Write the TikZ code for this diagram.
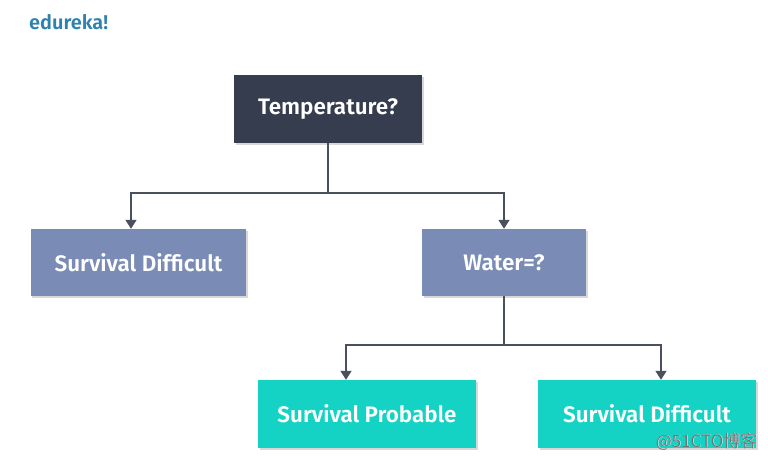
\documentclass[tikz,border=0pt]{standalone}
\usepackage{fontspec}
\setmainfont{Fira Sans}[BoldFont={Fira Sans SemiBold}]
\newfontfamily\cjk{Noto Sans CJK SC}
\usetikzlibrary{arrows.meta,shadows}
\definecolor{darkbox}{HTML}{353D4E}
\definecolor{slatebox}{HTML}{7A8CB5}
\definecolor{tealbox}{HTML}{14D3C5}
\definecolor{linec}{HTML}{4A505C}
\definecolor{logoc}{HTML}{2E82AE}
\tikzset{
  box/.style={rectangle, inner sep=0pt, text=white, font=\fontsize{22.5}{26}\selectfont\bfseries,
    drop shadow={shadow xshift=1.5bp, shadow yshift=-2bp, fill=black!30, opacity=0.5}},
  conn/.style={draw=linec, line width=1.5bp},
  arr/.style={conn, -{Triangle[length=9bp,width=11bp]}, color=linec},
}
\begin{document}
\begin{tikzpicture}[x=1bp,y=-1bp]
\useasboundingbox (0,0) rectangle (768,461);
\fill[white] (0,0) rectangle (768,461);
\node[anchor=west, inner sep=0pt, text=logoc, font=\fontsize{20}{24}\selectfont\bfseries] (logo) at (29,22) {edureka!};
\node[box, fill=darkbox, minimum width=188bp, minimum height=68bp] (temp) at (328,109) {Temperature?};
\node[box, fill=slatebox, minimum width=215bp, minimum height=67bp] (sd1) at (138.5,262.5) {Survival Difficult};
\node[box, fill=slatebox, minimum width=164bp, minimum height=67bp] (water) at (504,262.5) {Water=?};
\node[box, fill=tealbox, minimum width=218bp, minimum height=68bp] (sp) at (367,414) {Survival Probable};
\node[box, fill=tealbox, minimum width=218bp, minimum height=68bp] (sd2) at (647,414) {Survival Difficult};
\coordinate (j1) at (328,193);
\coordinate (j2) at (504,345);
\draw[conn] (temp.south) -- (j1);
\draw[arr] (j1) -| (sd1.north -| 131,0);
\draw[arr] (j1) -| (water.north);
\draw[conn] (water.south) -- (j2);
\draw[arr] (j2) -| (sp.north -| 346,0);
\draw[arr] (j2) -| (sd2.north -| 661,0);
\node[anchor=east, inner sep=0pt, text=white, font=\cjk\fontsize{17}{20}\selectfont] (wm0) at (758,442) {@51CTO博客};
\node[anchor=east, inner sep=0pt, text=black!55, font=\cjk\fontsize{17}{20}\selectfont] (wm) at (757.5,441.5) {@51CTO博客};
\end{tikzpicture}
\end{document}
